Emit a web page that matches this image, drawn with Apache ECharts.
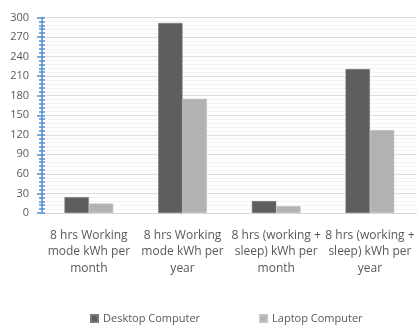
<!DOCTYPE html>
<html>
<head>
<meta charset="utf-8">
<script src="https://cdn.jsdelivr.net/npm/echarts@6/dist/echarts.min.js"></script>
<style>
  html, body { margin: 0; padding: 0; background: #ffffff; }
  #chart { width: 417px; height: 327px; }
</style>
</head>
<body>
<div id="chart"></div>
<script>
// Energy use of desktop vs laptop computers (kWh)
const categories = [
  '8 hrs Working\nmode kWh per\nmonth',
  '8 hrs Working\nmode kWh per\nyear',
  '8 hrs (working +\nsleep) kWh per\nmonth',
  '8 hrs (working +\nsleep) kWh per\nyear'
];
const desktopValues = [24.3, 291.6, 18.4, 220.8];
const laptopValues = [14.6, 175.2, 10.6, 127.2];
const seriesNames = ['Desktop Computer', 'Laptop Computer'];
const yTicks = { min: 0, max: 300, interval: 30 };

const font = '"Open Sans", "Liberation Sans", sans-serif';
const textColor = '#595959';
const axisBlue = '#5590cf';

const chart = echarts.init(document.getElementById('chart'), null, { renderer: 'canvas' });

const sharedY = {
  type: 'value',
  min: yTicks.min,
  max: yTicks.max,
  interval: yTicks.interval
};

chart.setOption({
  animation: false,
  backgroundColor: '#ffffff',
  textStyle: { fontFamily: font },
  grid: { left: 42, right: -4, top: 17.5, bottom: 114, containLabel: false },
  legend: {
    data: seriesNames,
    top: 308,
    left: 85,
    itemWidth: 7,
    itemHeight: 7,
    itemGap: 59,
    icon: 'rect',
    textStyle: { color: textColor, fontSize: 11, fontFamily: font }
  },
  xAxis: {
    type: 'category',
    data: categories,
    axisTick: { show: false },
    axisLine: { show: true, lineStyle: { color: '#d9d9d9', width: 1 } },
    axisLabel: {
      color: textColor,
      fontSize: 12,
      fontFamily: font,
      lineHeight: 16.5,
      margin: 14,
      interval: 0
    }
  },
  yAxis: [
    Object.assign({}, sharedY, {
      axisLine: { show: true, lineStyle: { color: axisBlue, width: 1.5 } },
      axisTick: { show: true, inside: false, length: 5, lineStyle: { color: axisBlue, width: 1.5 } },
      minorTick: { show: true, splitNumber: 5, length: 3, lineStyle: { color: axisBlue, width: 1.5 } },
      axisLabel: { color: textColor, fontSize: 11, fontFamily: font, margin: 13 },
      splitLine: { show: true, lineStyle: { color: '#dedede', width: 1 } },
      minorSplitLine: { show: true, lineStyle: { color: '#f3f3f3', width: 1 } }
    }),
    // overlay axis that carries the inner half of the major ticks and the minor ticks
    Object.assign({}, sharedY, {
      position: 'left',
      axisLine: { show: false },
      axisTick: { show: true, inside: true, length: 3, lineStyle: { color: axisBlue, width: 1.5 } },
      minorTick: { show: true, splitNumber: 5, length: 3, lineStyle: { color: axisBlue, width: 1.5 } },
      axisLabel: { show: false },
      splitLine: { show: false }
    })
  ],
  series: [
    {
      name: seriesNames[0],
      type: 'bar',
      data: desktopValues,
      barGap: '0%',
      barCategoryGap: '48%',
      itemStyle: { color: '#5e5e5e', borderColor: '#7a7a7a', borderWidth: 0.5 }
    },
    {
      name: seriesNames[1],
      type: 'bar',
      data: laptopValues,
      barGap: '0%',
      barCategoryGap: '48%',
      itemStyle: { color: '#b2b2b2', borderColor: '#c4c4c4', borderWidth: 0.5 }
    }
  ]
});
</script>
</body>
</html>
